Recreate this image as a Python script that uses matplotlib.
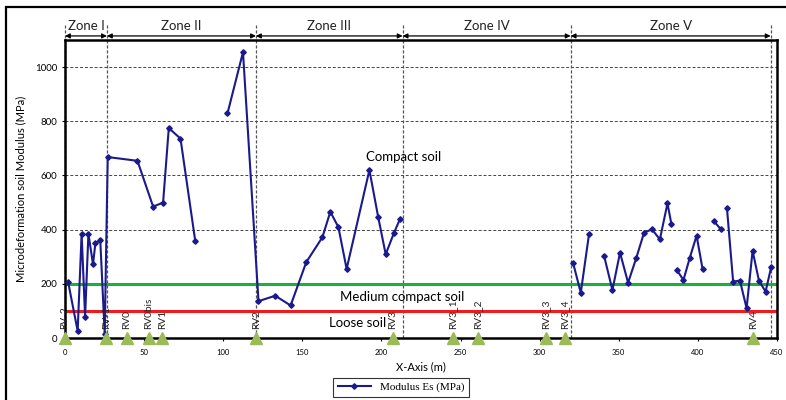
import numpy as np
import matplotlib.pyplot as plt
from matplotlib.patches import Rectangle

# ── Data ──
nan = np.nan
distance_m = [2, 8, 10.5, 12.7, 14.8, 17.7, 19.2, 22.3, 25.1,
              27, 45.8, 55.7, 62, 65.6, 73, 82.3, nan,
              102.7, 112.5, 122.3, 132.9, 142.6, 152.5, 162.7, 167.7, 172.8, 178,
              192.4, 197.9, 202.7, 207.8, 211.8, nan,
              321.1, 326, 331.2, nan,
              340.7, 346, 350.8, 355.9, 361, 366, 371, 376, 380.8, 383.3, nan,
              386.7, 390.9, 394.9, 399.2, 403, nan,
              410, 414.6, nan,
              418.4, 422.3, 426.6, 430.8, 434.6, 438.6, 442.8, 446.4]
modulus_es = [206, 26, 384, 79, 385, 272, 350, 360, 14,
              668, 654, 485, 500, 775, 736, 359, nan,
              829, 1055, 136, 156, 120, 280, 372, 466, 409, 255,
              620, 448, 309, 386, 440, nan,
              278, 167, 383, nan,
              304, 177, 315, 204, 294, 389, 401, 364, 497, 420, nan,
              251, 214, 296, 378, 254, nan,
              432, 401, nan,
              479, 208, 212, 110, 322, 212, 171, 263]

rv_names = ["RV-2", "RV-1", "RV0", "RV0bis", "RV1", "RV2", "RV3",
            "RV3_1", "RV3_2", "RV3_3", "RV3_4", "RV4"]
rv_pos = [0, 26, 39, 53, 61.5, 121, 207, 245, 261, 304, 316, 435]

zone_names = ["Zone I", "Zone II", "Zone III", "Zone IV", "Zone V"]
zone_bounds = [0, 26.5, 120.7, 213.4, 319.6, 446]

medium_limit = 200
loose_limit = 100

plt.rcParams["font.family"] = ["Lato", "DejaVu Sans"]

fig = plt.figure(figsize=(7.86, 4.0), dpi=100)
ax = fig.add_axes([0.0827, 0.155, 0.9058, 0.745])

# frame around the whole figure
fig.patches.append(Rectangle((0.0076, -0.05), 1.1, 1.0325, transform=fig.transFigure,
                             fill=False, edgecolor="black", linewidth=1.6))

# grid
for yv in [400, 600, 800, 1000]:
    ax.axhline(yv, color="#444444", ls=(0, (3, 2)), lw=0.7, zorder=1)

# soil class limits
ax.axhline(medium_limit, color="#1ab13a", lw=2.2, zorder=2)
ax.axhline(loose_limit, color="#ee1c1c", lw=2.2, zorder=2)

# zone boundaries, arrows and titles
for xb in zone_bounds:
    ax.plot([xb, xb], [0, 1155], color="#555555", ls=(0, (2.5, 1.5)), lw=0.9,
            clip_on=False, zorder=1)
for name, x0, x1 in zip(zone_names, zone_bounds[:-1], zone_bounds[1:]):
    ax.annotate("", xy=(x0, 1115), xytext=(x1, 1115), annotation_clip=False,
                arrowprops=dict(arrowstyle="<|-|>", color="black", lw=0.9,
                                shrinkA=0, shrinkB=0, mutation_scale=7))
    ax.text((x0 + x1) / 2, 1150, name, ha="center", va="center", fontsize=9.5,
            color="#222222")

# modulus series
es_line, = ax.plot(distance_m, modulus_es, color="#1a1a8c", lw=1.5, marker="D",
                   markersize=2.8, zorder=4)

# survey points
ax.plot(rv_pos, [0] * len(rv_pos), ls="none", marker="^", markersize=9,
        color="#9bbb59", clip_on=False, zorder=5)
for name, xp in zip(rv_names, rv_pos):
    ax.text(xp, 32, name, rotation=90, ha="center", va="bottom", fontsize=7.3,
            color="#222222", zorder=5)

ax.text(214, 668, "Compact soil", ha="center", va="center", fontsize=9.5)
ax.text(213, 153, "Medium compact soil", ha="center", va="center", fontsize=9.5)
ax.text(185, 55, "Loose soil", ha="center", va="center", fontsize=9.5)

ax.set_xlim(0, 450)
ax.set_ylim(0, 1100)
ax.set_xticks(np.arange(0, 451, 50))
ax.set_yticks(np.arange(0, 1001, 200))
ax.tick_params(axis="x", labelsize=5.5, length=2, pad=6)
ax.tick_params(axis="y", labelsize=7, length=2)
for sp in ax.spines.values():
    sp.set_linewidth(1.8)

ax.set_xlabel("X-Axis (m)", fontsize=8, labelpad=4)
ax.set_ylabel("Microdeformation soil Modulus (MPa)", fontsize=8, labelpad=6)

leg = ax.legend([es_line], ["Modulus Es (MPa)"], loc="center",
                bbox_to_anchor=(0.472, -0.165), frameon=True, fancybox=False,
                prop={"family": "Liberation Serif", "size": 8},
                handlelength=3, borderpad=0.4)
leg.get_frame().set_edgecolor("black")
leg.get_frame().set_linewidth(0.8)

plt.savefig("out.png", dpi=100)
